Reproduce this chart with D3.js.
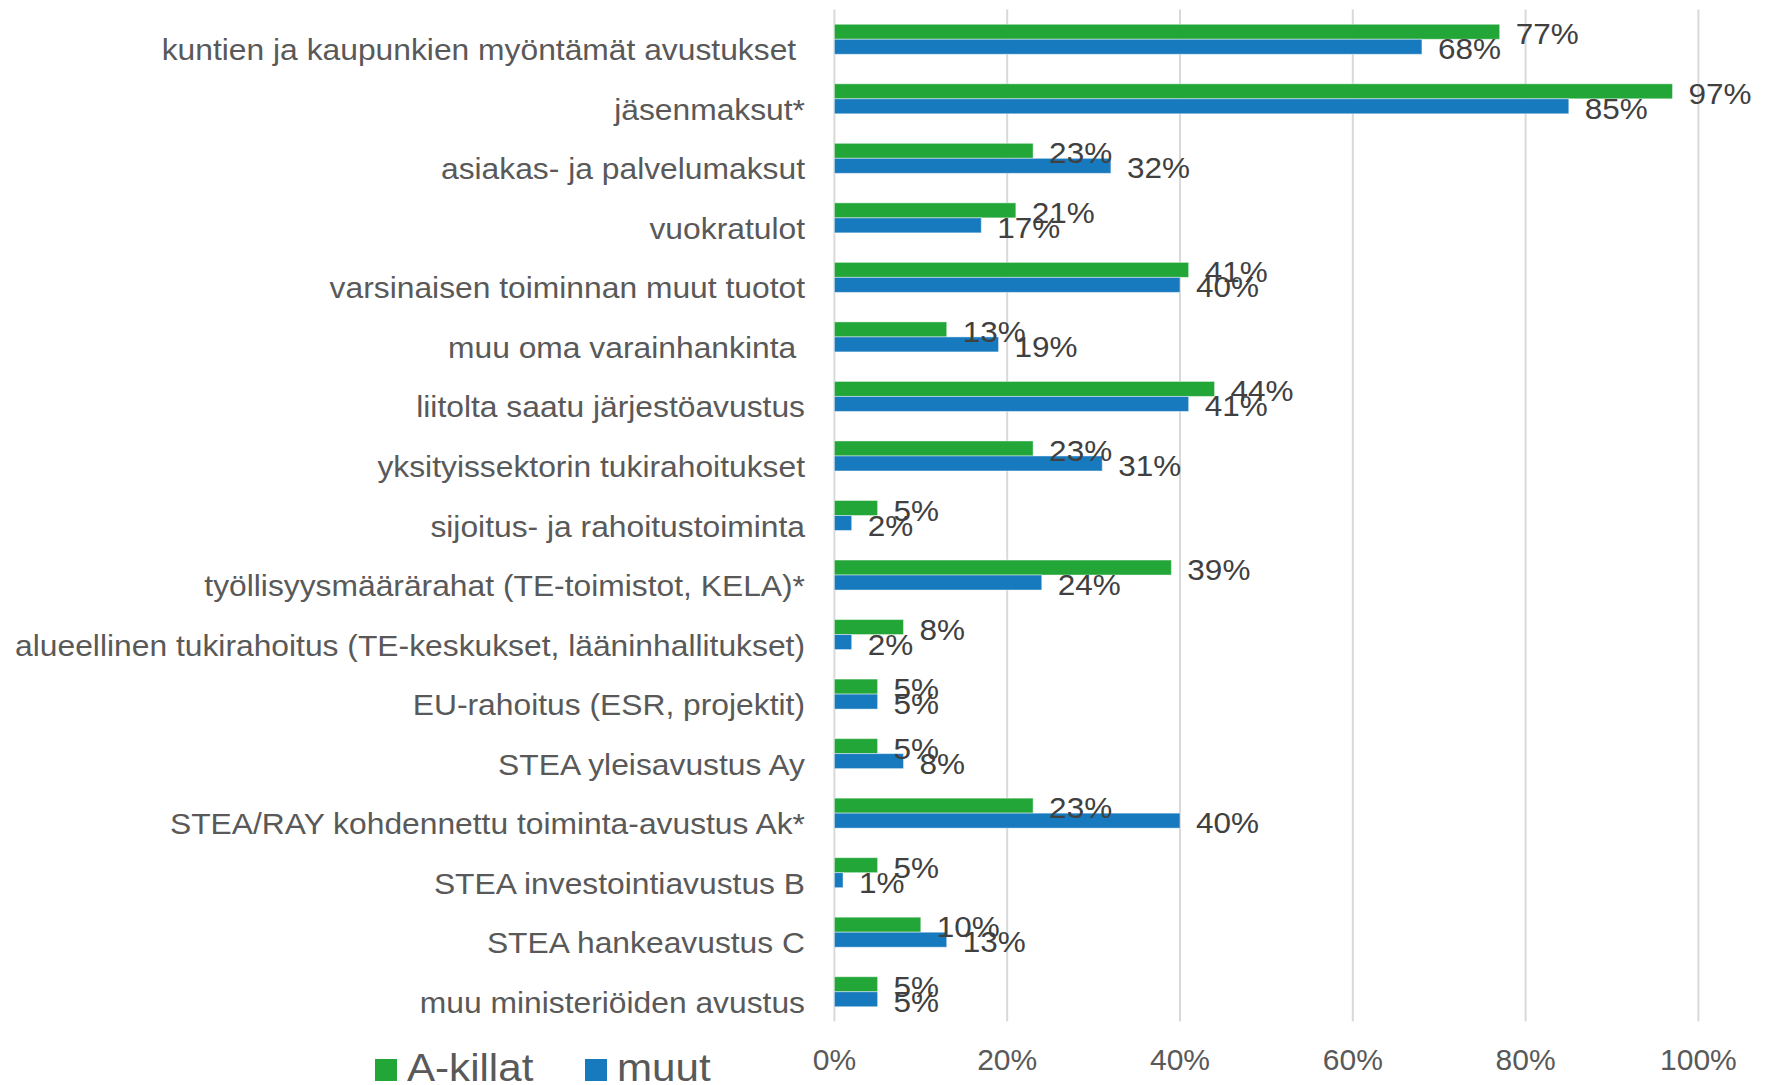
<!DOCTYPE html>
<html>
<head>
<meta charset="utf-8">
<style>
  html, body { margin: 0; padding: 0; background: #fff; }
  svg { display: block; }
  text { font-family: "Liberation Sans", Arial, sans-serif; white-space: pre; }
</style>
<script src="https://cdn.jsdelivr.net/npm/d3@7"></script>
</head>
<body>
<div id="chart"></div>
<script>
/* globals d3 */
// categories, top to bottom
let categories = [
  'kuntien ja kaupunkien myöntämät avustukset ',
  'jäsenmaksut*',
  'asiakas- ja palvelumaksut',
  'vuokratulot',
  'varsinaisen toiminnan muut tuotot',
  'muu oma varainhankinta ',
  'liitolta saatu järjestöavustus',
  'yksityissektorin tukirahoitukset',
  'sijoitus- ja rahoitustoiminta',
  'työllisyysmäärärahat (TE-toimistot, KELA)*',
  'alueellinen tukirahoitus (TE-keskukset, lääninhallitukset)',
  'EU-rahoitus (ESR, projektit)',
  'STEA yleisavustus Ay',
  'STEA/RAY kohdennettu toiminta-avustus Ak*',
  'STEA investointiavustus B',
  'STEA hankeavustus C',
  'muu ministeriöiden avustus'
]
let seriesNames = ['A-killat', 'muut']
let aKillat = [77, 97, 23, 21, 41, 13, 44, 23, 5, 39, 8, 5, 5, 23, 5, 10, 5]
let muut = [68, 85, 32, 17, 40, 19, 41, 31, 2, 24, 2, 5, 8, 40, 1, 13, 5]
let tickValues = [0, 20, 40, 60, 80, 100]
let colors = ['#21a637', '#1779be']

let width = 1768, height = 1085
let values = [aKillat, muut]
let rows = categories.map((c, i) => ({ cat: c, vals: seriesNames.map((s, j) => ({ s, j, v: values[j][i] })) }))

let svg = d3.select('#chart').append('svg')
  .attr('width', width)
  .attr('height', height)
  .attr('viewBox', [0, 0, width, height])

let x = d3.scaleLinear().domain([0, 100]).range([834.4, 1698.4])
let y = d3.scaleBand().domain(categories).range([9.5, 1021.5])
let barH = 15
let y1 = d3.scaleBand().domain(seriesNames)
  .range([y.bandwidth() / 2 - barH, y.bandwidth() / 2 + barH])

// gridlines
svg.append('g')
  .selectAll('line')
  .data(tickValues)
  .join('line')
  .attr('x1', d => x(d)).attr('x2', d => x(d))
  .attr('y1', 9.5).attr('y2', 1021.5)
  .attr('stroke', '#d9d9d9')
  .attr('stroke-width', 2)

// tick labels
svg.append('g')
  .selectAll('text')
  .data(tickValues)
  .join('text')
  .attr('x', d => x(d))
  .attr('y', 1070)
  .attr('text-anchor', 'middle')
  .attr('font-size', 30)
  .attr('fill', '#595959')
  .text(d => d + '%')

// category labels
svg.append('g')
  .selectAll('text')
  .data(categories)
  .join('text')
  .attr('transform', d => `translate(805,${y(d) + y.bandwidth() / 2 + 21}) scale(1.06,1)`)
  .attr('text-anchor', 'end')
  .attr('font-size', 30)
  .attr('fill', '#595959')
  .text(d => d)

// bars
let groups = svg.append('g')
  .selectAll('g')
  .data(rows)
  .join('g')
  .attr('transform', d => `translate(0,${y(d.cat)})`)

groups.selectAll('rect')
  .data(d => d.vals)
  .join('rect')
  .attr('x', x(0))
  .attr('y', d => y1(d.s))
  .attr('width', d => x(d.v) - x(0))
  .attr('height', y1.bandwidth())
  .attr('fill', d => colors[d.j])
  .attr('stroke', '#ffffff')
  .attr('stroke-opacity', 0.45)
  .attr('stroke-width', 1)

// value labels
groups.selectAll('text')
  .data(d => d.vals)
  .join('text')
  .attr('transform', d => `translate(${x(d.v) + 16},${y1(d.s) + y1.bandwidth() / 2 + 12.5}) scale(1.05,1)`)
  .attr('font-size', 30)
  .attr('fill', '#404040')
  .text(d => d.v + '%')

// legend
let legendX = [375, 585]
let legend = svg.append('g')
  .selectAll('g')
  .data(seriesNames)
  .join('g')
  .attr('transform', (d, i) => `translate(${legendX[i]},1059)`)
legend.append('rect')
  .attr('width', 22).attr('height', 22)
  .attr('fill', (d, i) => colors[i])
legend.append('text')
  .attr('transform', 'translate(32,22) scale(1.08,1)')
  .attr('font-size', 39)
  .attr('fill', '#595959')
  .text(d => d)
</script>
</body>
</html>
